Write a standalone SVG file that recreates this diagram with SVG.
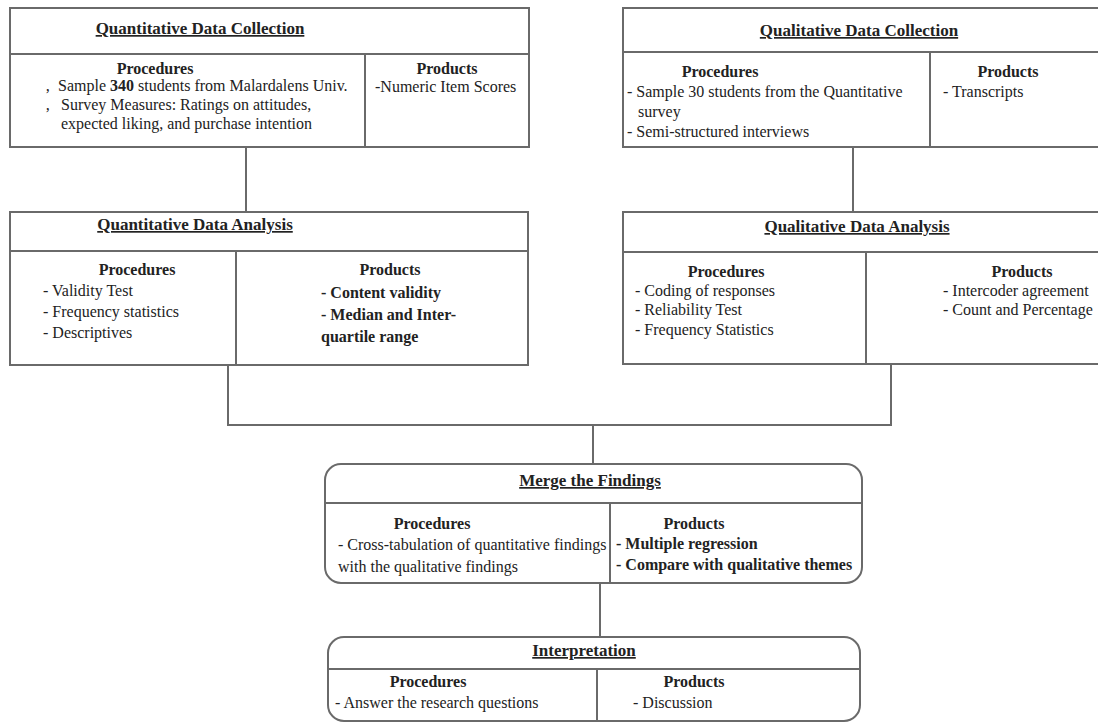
<svg xmlns="http://www.w3.org/2000/svg" width="1098" height="726" viewBox="0 0 1098 726">
<style>
.box{fill:#fff;stroke:#6a6a6a;stroke-width:2}
.ln{fill:none;stroke:#6a6a6a;stroke-width:2}
text{font-family:"Liberation Serif","Times New Roman",serif;font-size:16px;fill:#222}
.t{font-weight:bold;text-decoration:underline;text-anchor:middle;font-size:17px}
.h{font-weight:bold;text-anchor:middle}
.b{font-weight:bold}
</style>
<rect width="1098" height="726" fill="#fff"/>
<g id="connectors">
<line class="ln" x1="246" y1="147" x2="246" y2="212"/>
<line class="ln" x1="853" y1="147" x2="853" y2="212"/>
<polyline class="ln" points="228,365 228,425 891,425 891,365"/>
<line class="ln" x1="593" y1="425" x2="593" y2="464"/>
<line class="ln" x1="600" y1="583" x2="600" y2="637"/>
</g>
<g id="quant-collection">
<rect class="box" x="10" y="8" width="519" height="139"/>
<line class="ln" x1="10" y1="54" x2="529" y2="54"/>
<line class="ln" x1="365" y1="54" x2="365" y2="147"/>
<text class="t" x="200" y="34">Quantitative Data Collection</text>
<text class="h" x="155" y="74">Procedures</text>
<text x="45" y="91">‚</text>
<text x="58" y="91">Sample <tspan class="b">340</tspan> students from Malardalens Univ.</text>
<text x="45" y="110">‚</text>
<text x="61" y="110">Survey Measures: Ratings on attitudes,</text>
<text x="61" y="129">expected liking, and purchase intention</text>
<text class="h" x="447" y="74">Products</text>
<text x="375" y="92">-Numeric Item Scores</text>
</g>
<g id="qual-collection">
<rect class="box" x="623" y="8" width="500" height="139"/>
<line class="ln" x1="623" y1="52" x2="1100" y2="52"/>
<line class="ln" x1="930" y1="52" x2="930" y2="147"/>
<text class="t" x="859" y="36">Qualitative Data Collection</text>
<text class="h" x="720" y="77">Procedures</text>
<text x="627" y="97">- Sample 30 students from the Quantitative</text>
<text x="638" y="117">survey</text>
<text x="627" y="137">- Semi-structured interviews</text>
<text class="h" x="1008" y="77">Products</text>
<text x="943" y="97">- Transcripts</text>
</g>
<g id="quant-analysis">
<rect class="box" x="10" y="212" width="518" height="153"/>
<line class="ln" x1="10" y1="251" x2="528" y2="251"/>
<line class="ln" x1="236" y1="251" x2="236" y2="365"/>
<text class="t" x="195" y="230">Quantitative Data Analysis</text>
<text class="h" x="137" y="275">Procedures</text>
<text x="43" y="296">- Validity Test</text>
<text x="43" y="317">- Frequency statistics</text>
<text x="43" y="338">- Descriptives</text>
<text class="h" x="390" y="275">Products</text>
<text class="b" x="321" y="298">- Content validity</text>
<text class="b" x="321" y="320">- Median and Inter-</text>
<text class="b" x="321" y="342">quartile range</text>
</g>
<g id="qual-analysis">
<rect class="box" x="623" y="212" width="500" height="152"/>
<line class="ln" x1="623" y1="252" x2="1100" y2="252"/>
<line class="ln" x1="866" y1="252" x2="866" y2="364"/>
<text class="t" x="857" y="232">Qualitative Data Analysis</text>
<text class="h" x="726" y="277">Procedures</text>
<text x="635" y="296">- Coding of responses</text>
<text x="635" y="315">- Reliability Test</text>
<text x="635" y="335">- Frequency Statistics</text>
<text class="h" x="1022" y="277">Products</text>
<text x="943" y="296">- Intercoder agreement</text>
<text x="943" y="315">- Count and Percentage</text>
</g>
<g id="merge">
<rect class="box" x="325" y="464" width="537" height="119" rx="16"/>
<line class="ln" x1="325" y1="503" x2="862" y2="503"/>
<line class="ln" x1="610" y1="503" x2="610" y2="583"/>
<text class="t" x="590" y="486">Merge the Findings</text>
<text class="h" x="432" y="529">Procedures</text>
<text x="338" y="550">- Cross-tabulation of quantitative findings</text>
<text x="338" y="572">with the qualitative findings</text>
<text class="h" x="694" y="529">Products</text>
<text class="b" x="616" y="549">- Multiple regression</text>
<text class="b" x="616" y="570">- Compare with qualitative themes</text>
</g>
<g id="interpretation">
<rect class="box" x="328" y="637" width="532" height="84" rx="16"/>
<line class="ln" x1="328" y1="669" x2="860" y2="669"/>
<line class="ln" x1="597" y1="669" x2="597" y2="721"/>
<text class="t" x="584" y="656">Interpretation</text>
<text class="h" x="428" y="687">Procedures</text>
<text x="335" y="708">- Answer the research questions</text>
<text class="h" x="694" y="687">Products</text>
<text x="633" y="708">- Discussion</text>
</g>
</svg>
